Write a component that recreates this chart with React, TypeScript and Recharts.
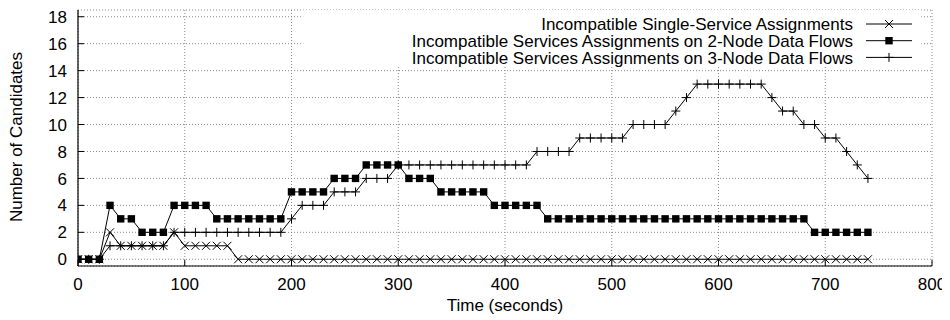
import React from 'react';
import { LineChart, Line, XAxis, YAxis, CartesianGrid, ReferenceArea } from 'recharts';

const times = [
  0, 10, 20, 30, 40, 50, 60, 70, 80, 90, 100, 110, 120, 130, 140, 150, 160, 170, 180, 190,
  200, 210, 220, 230, 240, 250, 260, 270, 280, 290, 300, 310, 320, 330, 340, 350, 360, 370, 380, 390,
  400, 410, 420, 430, 440, 450, 460, 470, 480, 490, 500, 510, 520, 530, 540, 550, 560, 570, 580, 590,
  600, 610, 620, 630, 640, 650, 660, 670, 680, 690, 700, 710, 720, 730, 740,
];

const singleService = [
  0, 0, 0, 2, 1, 1, 1, 1, 1, 2, 1, 1, 1, 1, 1, 0, 0, 0, 0, 0,
  0, 0, 0, 0, 0, 0, 0, 0, 0, 0, 0, 0, 0, 0, 0, 0, 0, 0, 0, 0,
  0, 0, 0, 0, 0, 0, 0, 0, 0, 0, 0, 0, 0, 0, 0, 0, 0, 0, 0, 0,
  0, 0, 0, 0, 0, 0, 0, 0, 0, 0, 0, 0, 0, 0, 0,
];

const twoNode = [
  0, 0, 0, 4, 3, 3, 2, 2, 2, 4, 4, 4, 4, 3, 3, 3, 3, 3, 3, 3,
  5, 5, 5, 5, 6, 6, 6, 7, 7, 7, 7, 6, 6, 6, 5, 5, 5, 5, 5, 4,
  4, 4, 4, 4, 3, 3, 3, 3, 3, 3, 3, 3, 3, 3, 3, 3, 3, 3, 3, 3,
  3, 3, 3, 3, 3, 3, 3, 3, 3, 2, 2, 2, 2, 2, 2,
];

const threeNode = [
  0, 0, 0, 1, 1, 1, 1, 1, 1, 2, 2, 2, 2, 2, 2, 2, 2, 2, 2, 2,
  3, 4, 4, 4, 5, 5, 5, 6, 6, 6, 7, 7, 7, 7, 7, 7, 7, 7, 7, 7,
  7, 7, 7, 8, 8, 8, 8, 9, 9, 9, 9, 9, 10, 10, 10, 10, 11, 12, 13, 13,
  13, 13, 13, 13, 13, 12, 11, 11, 10, 10, 9, 9, 8, 7, 6,
];

const xTicks = [0, 100, 200, 300, 400, 500, 600, 700, 800];
const yTicks = [0, 2, 4, 6, 8, 10, 12, 14, 16, 18];

const seriesNames = [
  'Incompatible Single-Service Assignments',
  'Incompatible Services Assignments on 2-Node Data Flows',
  'Incompatible Services Assignments on 3-Node Data Flows',
];
const seriesKeys = ['single', 'two', 'three'];
const seriesMarkers = ['cross', 'square', 'plus'];

const xTitle = 'Time (seconds)';
const yTitle = 'Number of Candidates';

const data = times.map((t, i) => ({
  t,
  single: singleService[i],
  two: twoNode[i],
  three: threeNode[i],
}));

const FONT = '"Liberation Sans", Arial, Helvetica, sans-serif';
const FS = 17;

function marker(kind: string, cx: number, cy: number, key?: any) {
  if (kind === 'cross') {
    const s = 4;
    return (
      <path key={key} d={`M${cx - s},${cy - s}L${cx + s},${cy + s}M${cx - s},${cy + s}L${cx + s},${cy - s}`} stroke="#000" strokeWidth={1} fill="none" />
    );
  }
  if (kind === 'square') {
    const s = 3.7;
    return <rect key={key} x={cx - s} y={cy - s} width={2 * s} height={2 * s} fill="#000" stroke="none" />;
  }
  const s = 4.5;
  return (
    <path key={key} d={`M${cx - s},${cy}L${cx + s},${cy}M${cx},${cy - s}L${cx},${cy + s}`} stroke="#000" strokeWidth={1} fill="none" />
  );
}

const BottomTick = (p: any) => (
  <g>
    <line x1={p.x} y1={p.y} x2={p.x} y2={p.y - 6} stroke="#000" strokeWidth={1} />
    <text x={p.x} y={p.y + 18} dy="0.36em" textAnchor="middle" fontSize={FS} fontFamily={FONT} fill="#000">
      {p.payload.value}
    </text>
  </g>
);
const TopTick = (p: any) => (
  <line x1={p.x} y1={p.y} x2={p.x} y2={p.y + 6} stroke="#000" strokeWidth={1} />
);
const LeftTick = (p: any) => (
  <g>
    <line x1={p.x} y1={p.y} x2={p.x + 6} y2={p.y} stroke="#000" strokeWidth={1} />
    <text x={p.x - 11} y={p.y} dy="0.36em" textAnchor="end" fontSize={FS} fontFamily={FONT} fill="#000">
      {p.payload.value}
    </text>
  </g>
);
const RightTick = (p: any) => (
  <line x1={p.x} y1={p.y} x2={p.x - 6} y2={p.y} stroke="#000" strokeWidth={1} />
);

export default function App() {
  const W = 942;
  const H = 312;
  const legendRows = [16, 32.7, 49.4];
  return (
    <div style={{ position: 'relative', width: W, height: H, fontFamily: FONT }}>
      <LineChart width={W} height={H} data={data} margin={{ top: 2, right: 18, bottom: 14, left: 0 }}>
        <CartesianGrid stroke="#8a8a8a" strokeDasharray="1 2" strokeWidth={1} />
        <ReferenceArea x1={211} x2={790} y1={14.4} y2={18.5} fill="#fff" fillOpacity={1} stroke="none" ifOverflow="hidden" />
        <XAxis
          dataKey="t"
          type="number"
          domain={[0, 800]}
          ticks={xTicks}
          interval={0}
          height={40}
          tickSize={0}
          tickMargin={0}
          tickLine={false}
          axisLine={{ stroke: '#000', strokeWidth: 1.2 }}
          tick={BottomTick}
          allowDataOverflow
        />
        <XAxis
          xAxisId="top"
          orientation="top"
          dataKey="t"
          type="number"
          domain={[0, 800]}
          ticks={xTicks}
          interval={0}
          height={0}
          tickSize={0}
          tickMargin={0}
          tickLine={false}
          axisLine={{ stroke: '#000', strokeWidth: 1.2 }}
          tick={TopTick}
          allowDataOverflow
        />
        <YAxis
          type="number"
          domain={[-0.5, 18.5]}
          ticks={yTicks}
          interval={0}
          width={70}
          tickSize={0}
          tickMargin={0}
          tickLine={false}
          axisLine={{ stroke: '#000', strokeWidth: 1.2 }}
          tick={LeftTick}
          allowDataOverflow
        />
        <YAxis
          yAxisId="right"
          orientation="right"
          type="number"
          domain={[-0.5, 18.5]}
          ticks={yTicks}
          interval={0}
          width={0}
          tickSize={0}
          tickMargin={0}
          tickLine={false}
          axisLine={{ stroke: '#000', strokeWidth: 1.2 }}
          tick={RightTick}
          allowDataOverflow
        />
        {seriesKeys.map((k, si) => (
          <Line
            key={k}
            dataKey={k}
            type="linear"
            stroke="#000"
            strokeWidth={1}
            isAnimationActive={false}
            dot={(p: any) => marker(seriesMarkers[si], p.cx, p.cy, `${k}-${p.index}`)}
            activeDot={false}
          />
        ))}
      </LineChart>
      <svg width={W} height={H} style={{ position: 'absolute', left: 0, top: 0, pointerEvents: 'none' }}>
        {seriesNames.map((name, i) => (
          <g key={name}>
            <text x={845} y={legendRows[i]} dy="0.36em" textAnchor="end" fontSize={FS} fontFamily={FONT} fill="#000">
              {name}
            </text>
            <line x1={858} y1={legendRows[i]} x2={904} y2={legendRows[i]} stroke="#000" strokeWidth={1} />
            {marker(seriesMarkers[i], 881, legendRows[i])}
          </g>
        ))}
        <text x={497} y={297} dy="0.36em" textAnchor="middle" fontSize={FS} fontFamily={FONT} fill="#000">
          {xTitle}
        </text>
        <text
          x={0}
          y={0}
          dy="0.36em"
          textAnchor="middle"
          fontSize={FS}
          fontFamily={FONT}
          fill="#000"
          transform={`translate(8,129) rotate(-90)`}
        >
          {yTitle}
        </text>
      </svg>
    </div>
  );
}
